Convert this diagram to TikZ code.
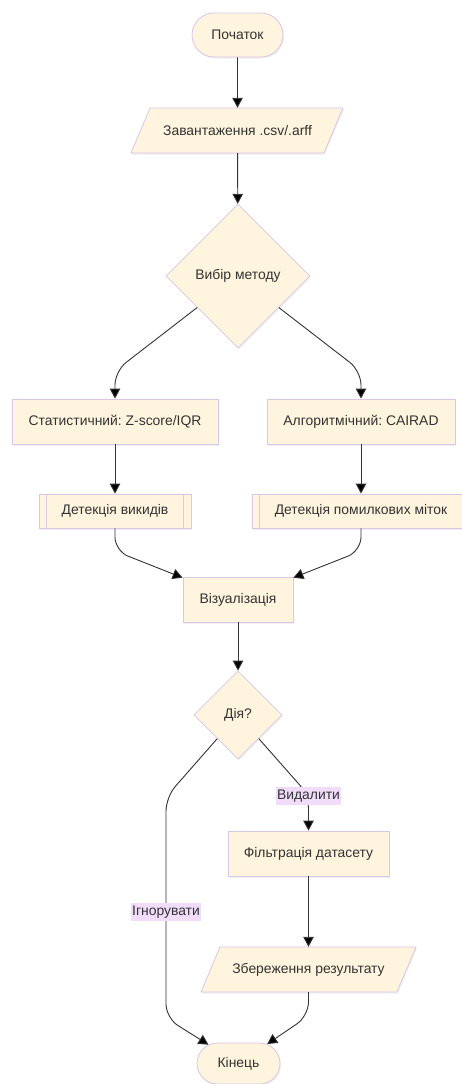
\documentclass[tikz,border=0pt]{standalone}
\usepackage{fontspec}
\setmainfont{Liberation Sans}
\usetikzlibrary{shapes.geometric,shapes.misc,arrows.meta,shadows,backgrounds}
\frenchspacing

\definecolor{nodefill}{HTML}{FFF4DD}
\definecolor{nodeline}{HTML}{D9C6E8}
\definecolor{txt}{HTML}{333333}
\definecolor{edge}{HTML}{333333}
\definecolor{lblbg}{HTML}{F1DDFB}

\tikzset{
  base/.style={fill=nodefill, draw=nodeline, line width=0.8pt, text=txt,
    font=\fontsize{13.9}{16}\selectfont, inner sep=0pt,
    drop shadow={shadow xshift=1pt, shadow yshift=-1.5pt, opacity=0.12}},
  terminal/.style={base, rounded rectangle, minimum height=44pt},
  procbox/.style={base, rectangle, minimum height=45pt},
  subbox/.style={base, rectangle, minimum height=34pt},
  choice/.style={base, diamond, aspect=1},
  iotext/.style={rectangle, text=txt, font=\fontsize{13.9}{16}\selectfont,
    inner sep=0pt, minimum height=45pt},
  iobox/.style={fill=nodefill, draw=nodeline, line width=0.8pt,
    drop shadow={shadow xshift=1pt, shadow yshift=-1.5pt, opacity=0.12}},
  subline/.style={draw=nodeline, line width=0.8pt},
  flow/.style={draw=edge, line width=0.9pt,
    -{Triangle[width=10.5pt,length=10pt,fill=black]}},
  curvedflow/.style={flow, rounded corners=14pt},
  edgelabel/.style={fill=lblbg, text=txt, font=\fontsize{13.9}{16}\selectfont,
    inner xsep=1pt, inner ysep=3pt}
}

\begin{document}
\begin{tikzpicture}[x=1pt, y=-1pt]
\useasboundingbox (0,0) rectangle (462,1084);

% input/output parallelograms
\path[iobox] (150,108) -- (343,108) -- (324,153) -- (131,153) -- cycle;
\path[iobox] (220,947) -- (416,947) -- (397,992) -- (201,992) -- cycle;

% nodes
\node[terminal, minimum width=91pt] (start) at (237.5,35) {Початок};
\node[iotext, minimum width=174pt] (load) at (237.5,130.5) {Завантаження .csv/.arff};
\node[choice, minimum width=144pt, minimum height=144pt] (method) at (238,276) {Вибір методу};
\node[procbox, minimum width=206pt] (stat) at (115,421.5) {Статистичний: Z-score/IQR};
\node[procbox, minimum width=188pt] (algo) at (361,421.5) {Алгоритмічний: CAIRAD};
\node[subbox, minimum width=152pt] (outl) at (115,511) {Детекція викидів};
\node[subbox, minimum width=218pt] (lbl) at (361,511) {Детекція помилкових міток};
\node[procbox, minimum width=110pt] (vis) at (238,599.5) {Візуалізація};
\node[choice, minimum width=88pt, minimum height=88pt] (act) at (238,715) {Дія?};
\node[procbox, minimum width=161pt] (filt) at (308.5,853.5) {Фільтрація датасету};
\node[iotext, minimum width=178pt] (save) at (308.5,969.5) {Збереження результату};
\node[terminal, minimum width=83pt, minimum height=41pt] (finish) at (238.5,1063.5) {Кінець};

% inner bars of the subroutine boxes
\foreach \n in {outl,lbl}{
  \draw[subline] ([xshift=8pt]\n.north west) -- ([xshift=8pt]\n.south west);
  \draw[subline] ([xshift=-8pt]\n.north east) -- ([xshift=-8pt]\n.south east);
}

% bend points
\coordinate (m1) at (115,371);
\coordinate (m2) at (361,371);
\coordinate (j1) at (115,551);
\coordinate (j2) at (361,551);
\coordinate (a1) at (166,797);
\coordinate (a2) at (166,1018);
\coordinate (d1) at (308.5,795);
\coordinate (s1) at (308.5,1016);

% connectors
\draw[flow] (start) -- (load);
\draw[flow] (load) -- (method);
\draw[curvedflow] (method) -- (m1) -- (stat);
\draw[curvedflow] (method) -- (m2) -- (algo);
\draw[flow] (stat) -- (outl);
\draw[flow] (algo.south) -- (algo.south |- lbl.north);
\draw[curvedflow] (outl) -- (j1) -- (vis);
\draw[curvedflow] (lbl.south -| algo.south) -- (j2) -- (vis);
\draw[flow] (vis) -- (act);
\draw[curvedflow] (act) -- (a1) -- (a2) -- (finish);
\draw[curvedflow] (act) -- (d1) -- (filt);
\draw[flow] (filt) -- (save);
\draw[curvedflow] (save) -- (s1) -- (finish);

% edge labels
\node[edgelabel] (lignore) at (166,912) {Ігнорувати};
\node[edgelabel] (ldelete) at (308.5,796) {Видалити};
\end{tikzpicture}
\end{document}
